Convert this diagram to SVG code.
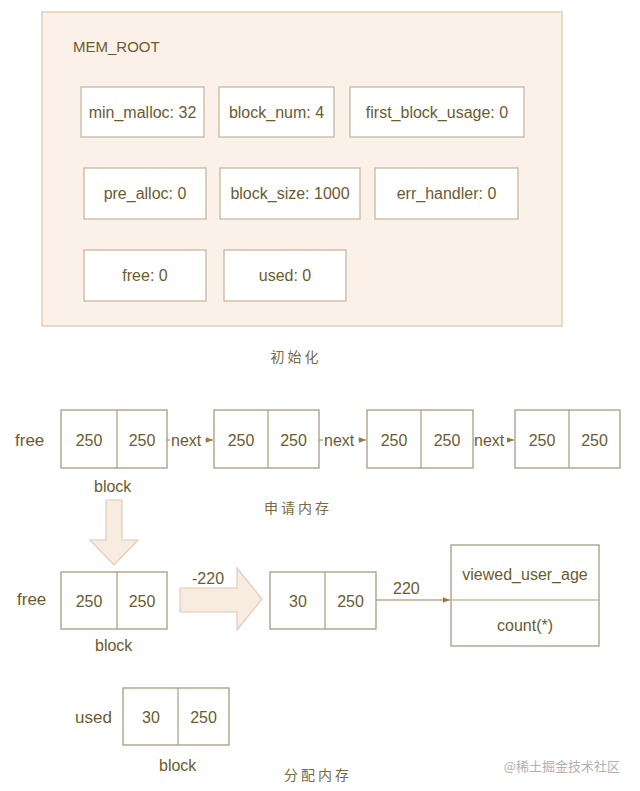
<svg xmlns="http://www.w3.org/2000/svg" width="640" height="791" viewBox="0 0 640 791">
<defs>
<style>
.t{font-family:"Liberation Sans","DejaVu Sans",sans-serif;font-size:16px;fill:#6b5b30;text-anchor:middle}
.l{font-family:"Liberation Sans","DejaVu Sans",sans-serif;font-size:16px;fill:#6b5b30}
.cn{font-family:"Noto Sans CJK SC",sans-serif;font-size:14px;fill:#7a6a40;text-anchor:middle;letter-spacing:3px}
.fbox{fill:#ffffff;stroke:#c8b8a0;stroke-width:1.3}
.blk{fill:#ffffff;stroke:#a89a80;stroke-width:1.3}
.div{stroke:#a89a80;stroke-width:1.2}
.ln{stroke:#9a8050;stroke-width:1.2;fill:none}
.fat{fill:#f8ebe0;stroke:#e0ccb8;stroke-width:1.2}
</style>
<marker id="ah" viewBox="0 0 10 10" refX="10" refY="5" markerWidth="7" markerHeight="7" orient="auto" markerUnits="userSpaceOnUse">
<path d="M0,1 L10,5 L0,9 Z" fill="#9a7a40"/>
</marker>
</defs>
<rect width="640" height="791" fill="#ffffff"/>

<g id="mem_root">
<rect x="42" y="12" width="520" height="314" fill="#fbf1e8" stroke="#ddc8b0" stroke-width="1.3"/>
<text class="l" x="73" y="52" style="font-size:15px">MEM_ROOT</text>
</g>
<g id="f_min_malloc"><rect class="fbox" x="81" y="87" width="123" height="50"/><text class="t" x="142.5" y="118">min_malloc: 32</text></g>
<g id="f_block_num"><rect class="fbox" x="219" y="87" width="115" height="50"/><text class="t" x="276.5" y="118">block_num: 4</text></g>
<g id="f_first_block_usage"><rect class="fbox" x="350" y="87" width="174" height="50"/><text class="t" x="437" y="118">first_block_usage: 0</text></g>
<g id="f_pre_alloc"><rect class="fbox" x="84" y="168" width="122" height="51"/><text class="t" x="145" y="199">pre_alloc: 0</text></g>
<g id="f_block_size"><rect class="fbox" x="220" y="168" width="140" height="51"/><text class="t" x="290" y="199">block_size: 1000</text></g>
<g id="f_err_handler"><rect class="fbox" x="375" y="168" width="143" height="51"/><text class="t" x="446.5" y="199">err_handler: 0</text></g>
<g id="f_free"><rect class="fbox" x="84" y="250" width="122" height="51"/><text class="t" x="145" y="281">free: 0</text></g>
<g id="f_used"><rect class="fbox" x="224" y="250" width="122" height="51"/><text class="t" x="285" y="281">used: 0</text></g>
<text class="cn" x="296" y="362">初始化</text>

<g id="free_label1"><text class="l" x="15" y="446" style="font-size:17px">free</text></g>
<g id="blk1"><rect class="blk" x="61" y="410" width="106" height="58"/><line class="div" x1="117" y1="410" x2="117" y2="468"/><text class="t" x="89" y="446">250</text><text class="t" x="142" y="446">250</text></g>
<g id="blk2"><rect class="blk" x="214" y="410" width="105" height="58"/><line class="div" x1="268" y1="410" x2="268" y2="468"/><text class="t" x="241" y="446">250</text><text class="t" x="293.5" y="446">250</text></g>
<g id="blk3"><rect class="blk" x="367" y="410" width="106" height="58"/><line class="div" x1="421" y1="410" x2="421" y2="468"/><text class="t" x="394" y="446">250</text><text class="t" x="447" y="446">250</text></g>
<g id="blk4"><rect class="blk" x="515" y="410" width="105" height="58"/><line class="div" x1="569" y1="410" x2="569" y2="468"/><text class="t" x="542" y="446">250</text><text class="t" x="594.5" y="446">250</text></g>
<text class="l" x="94" y="492">block</text>
<text class="cn" x="298" y="513">申请内存</text>

<g id="connectors">
<line class="ln" x1="167" y1="440" x2="213" y2="440" marker-end="url(#ah)"/>
<line class="ln" x1="319" y1="440" x2="366" y2="440" marker-end="url(#ah)"/>
<line class="ln" x1="473" y1="440" x2="514" y2="440" marker-end="url(#ah)"/>
<rect x="170" y="430" width="35" height="18" fill="#ffffff"/>
<rect x="323" y="430" width="35" height="18" fill="#ffffff"/>
<rect x="474" y="430" width="33" height="18" fill="#ffffff"/>
<text class="l" x="171" y="446">next</text>
<text class="l" x="324" y="446">next</text>
<text class="l" x="474" y="446">next</text>
<path class="fat" d="M106,500 L122,500 L122,540 L138,540 L114,565 L90,540 L106,540 Z"/>
<path class="fat" d="M180,588 L237,588 L237,568 L262,599 L237,630 L237,612 L180,612 Z"/>
<text class="l" x="192" y="584">-220</text>
<line class="ln" x1="376" y1="600" x2="450" y2="600" marker-end="url(#ah)"/>
<text class="l" x="393" y="594">220</text>
</g>

<g id="free_label2"><text class="l" x="17" y="605" style="font-size:17px">free</text></g>
<g id="blk5"><rect class="blk" x="61" y="572" width="106" height="57"/><line class="div" x1="117" y1="572" x2="117" y2="629"/><text class="t" x="89" y="607">250</text><text class="t" x="142" y="607">250</text></g>
<text class="l" x="95" y="651">block</text>
<g id="blk6"><rect class="blk" x="270" y="572" width="106" height="57"/><line class="div" x1="325" y1="572" x2="325" y2="629"/><text class="t" x="298" y="607">30</text><text class="t" x="350.5" y="607">250</text></g>
<g id="table"><rect class="blk" x="451" y="545" width="148" height="101"/><line class="div" x1="451" y1="600" x2="599" y2="600"/><text class="t" x="525" y="580">viewed_user_age</text><text class="t" x="525" y="631">count(*)</text></g>

<g id="used_label"><text class="l" x="75" y="723" style="font-size:17px">used</text></g>
<g id="blk7"><rect class="blk" x="123" y="688" width="106" height="57"/><line class="div" x1="178" y1="688" x2="178" y2="745"/><text class="t" x="151" y="723">30</text><text class="t" x="203.5" y="723">250</text></g>
<text class="l" x="159" y="771">block</text>
<text class="cn" x="318" y="780">分配内存</text>
<text x="620" y="771" style="font-family:'Noto Sans CJK SC',sans-serif;font-size:13px;fill:#b0b0b0;text-anchor:end">@稀土掘金技术社区</text>
</svg>
